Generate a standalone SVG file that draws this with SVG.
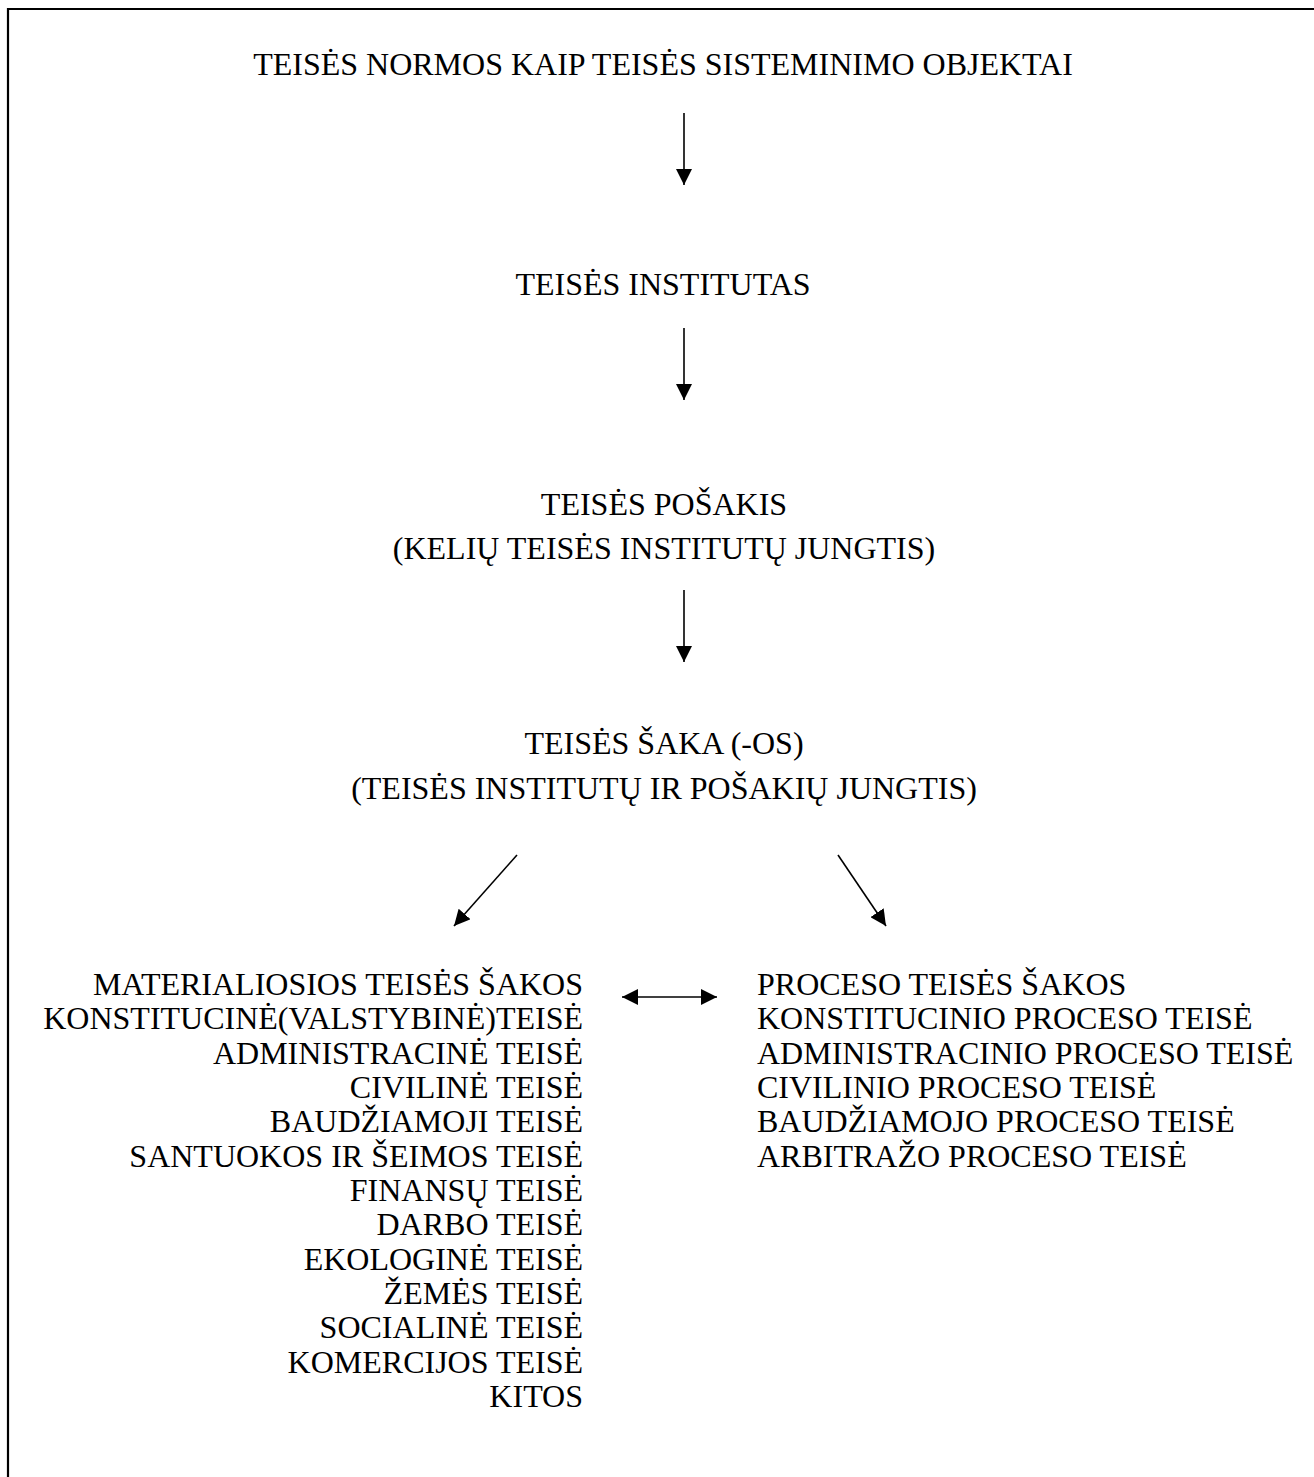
<svg xmlns="http://www.w3.org/2000/svg" width="1314" height="1477" viewBox="0 0 1314 1477">
<style>
text{font-family:"Liberation Serif","Times New Roman",serif;font-size:32px;fill:#000}
.c{text-anchor:middle}
.r{text-anchor:end}
.conn line{stroke:#000;stroke-width:1.6;fill:none}
</style>
<defs>
<marker id="ah" viewBox="0 0 16 16" refX="16" refY="8" markerWidth="16" markerHeight="16" markerUnits="userSpaceOnUse" orient="auto-start-reverse">
<path d="M0,0 L16,8 L0,16 z" fill="#000"/>
</marker>
</defs>
<rect width="1314" height="1477" fill="#fff"/>
<path d="M8,1477 L8,9 L1314,9" fill="none" stroke="#000" stroke-width="2.2"/>
<g id="n1"><text class="c" x="663" y="75">TEISĖS NORMOS KAIP TEISĖS SISTEMINIMO OBJEKTAI</text></g>
<g id="n2"><text class="c" x="663" y="295">TEISĖS INSTITUTAS</text></g>
<g id="n3"><text class="c" x="664" y="515">TEISĖS POŠAKIS</text><text class="c" x="664" y="559">(KELIŲ TEISĖS INSTITUTŲ JUNGTIS)</text></g>
<g id="n4"><text class="c" x="664" y="754">TEISĖS ŠAKA (-OS)</text><text class="c" x="664" y="799">(TEISĖS INSTITUTŲ IR POŠAKIŲ JUNGTIS)</text></g>
<g id="n5">
<text class="r" x="583" y="995">MATERIALIOSIOS TEISĖS ŠAKOS</text>
<text class="r" x="583" y="1029.3">KONSTITUCINĖ(VALSTYBINĖ)TEISĖ</text>
<text class="r" x="583" y="1063.7">ADMINISTRACINĖ TEISĖ</text>
<text class="r" x="583" y="1098">CIVILINĖ TEISĖ</text>
<text class="r" x="583" y="1132.3">BAUDŽIAMOJI TEISĖ</text>
<text class="r" x="583" y="1166.7">SANTUOKOS IR ŠEIMOS TEISĖ</text>
<text class="r" x="583" y="1201">FINANSŲ TEISĖ</text>
<text class="r" x="583" y="1235.3">DARBO TEISĖ</text>
<text class="r" x="583" y="1269.7">EKOLOGINĖ TEISĖ</text>
<text class="r" x="583" y="1304">ŽEMĖS TEISĖ</text>
<text class="r" x="583" y="1338.3">SOCIALINĖ TEISĖ</text>
<text class="r" x="583" y="1372.7">KOMERCIJOS TEISĖ</text>
<text class="r" x="583" y="1407">KITOS</text>
</g>
<g id="n6">
<text x="757" y="995">PROCESO TEISĖS ŠAKOS</text>
<text x="757" y="1029.3">KONSTITUCINIO PROCESO TEISĖ</text>
<text x="757" y="1063.7">ADMINISTRACINIO PROCESO TEISĖ</text>
<text x="757" y="1098">CIVILINIO PROCESO TEISĖ</text>
<text x="757" y="1132.3">BAUDŽIAMOJO PROCESO TEISĖ</text>
<text x="757" y="1166.7">ARBITRAŽO PROCESO TEISĖ</text>
</g>
<g class="conn" id="connectors">
<line x1="684" y1="113" x2="684" y2="185" marker-end="url(#ah)"/>
<line x1="684" y1="328" x2="684" y2="400" marker-end="url(#ah)"/>
<line x1="684" y1="590" x2="684" y2="662" marker-end="url(#ah)"/>
<line x1="517" y1="855" x2="454" y2="926" marker-end="url(#ah)"/>
<line x1="838" y1="855" x2="886" y2="926" marker-end="url(#ah)"/>
<line x1="622" y1="997" x2="717" y2="997" marker-start="url(#ah)" marker-end="url(#ah)"/>
</g>
</svg>
